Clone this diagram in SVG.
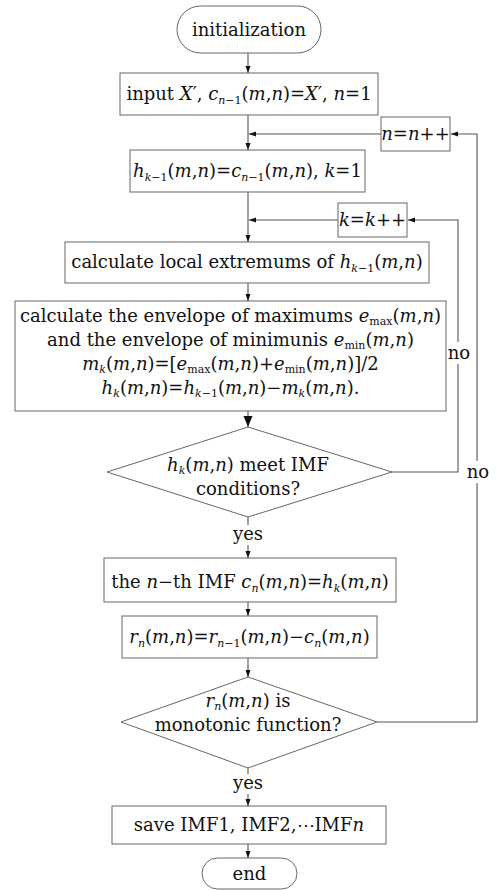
<svg xmlns="http://www.w3.org/2000/svg" width="498" height="890" viewBox="0 0 498 890">
<style>
.box{fill:#fff;stroke:#666;stroke-width:1}
.ln{fill:none;stroke:#555;stroke-width:1.1}
text{font-family:"DejaVu Serif","Liberation Serif",serif;font-size:18px;fill:#111;text-anchor:middle}
.i{font-style:italic}
.s{font-size:11px}
</style>
<defs>
<marker id="ah" markerWidth="8" markerHeight="8" refX="7" refY="4" orient="auto" markerUnits="userSpaceOnUse">
<path d="M0,1.5 L7,4 L0,6.5 Z" fill="#111"/>
</marker>
<marker id="ahb" markerWidth="12" markerHeight="12" refX="11" refY="6" orient="auto" markerUnits="userSpaceOnUse">
<path d="M0,1.5 L11,6 L0,10.5 Z" fill="#111"/>
</marker>
</defs>
<rect width="498" height="890" fill="#fff"/>
<g id="connectors">
<path class="ln" d="M248,53 V73" marker-end="url(#ah)"/>
<path class="ln" d="M248,115 V150" marker-end="url(#ah)"/>
<path class="ln" d="M381,134 H249" marker-end="url(#ah)"/>
<path class="ln" d="M377,722 H477 V134 H451" marker-end="url(#ah)"/>
<path class="ln" d="M248,192 V242" marker-end="url(#ah)"/>
<path class="ln" d="M338,220 H249" marker-end="url(#ah)"/>
<path class="ln" d="M392,472 H458 V220 H408" marker-end="url(#ah)"/>
<path class="ln" d="M248,283 V301" marker-end="url(#ah)"/>
<path class="ln" d="M248,411 V427" marker-end="url(#ahb)"/>
<path class="ln" d="M248,517 V558" marker-end="url(#ah)"/>
<path class="ln" d="M248,602 V616" marker-end="url(#ah)"/>
<path class="ln" d="M248,658 V677" marker-end="url(#ah)"/>
<path class="ln" d="M248,768 V806" marker-end="url(#ah)"/>
<path class="ln" d="M248,844 V858" marker-end="url(#ah)"/>
</g>
<g id="labels">
<rect x="447" y="342" width="24" height="22" fill="#fff"/>
<text x="459" y="359">no</text>
<rect x="466" y="461" width="24" height="22" fill="#fff"/>
<text x="478" y="478">no</text>
<rect x="229" y="525" width="38" height="20" fill="#fff"/>
<text x="248" y="540">yes</text>
<rect x="229" y="774" width="38" height="20" fill="#fff"/>
<text x="248" y="789">yes</text>
</g>
<g id="init">
<rect class="box" x="177" y="6" width="144" height="47" rx="23.5"/>
<text x="249" y="36">initialization</text>
</g>
<g id="input">
<rect class="box" x="120" y="73" width="258" height="42"/>
<text x="249" y="100">input <tspan class="i">X</tspan>′, <tspan class="i">c</tspan><tspan class="s i" dy="4">n</tspan><tspan class="s">−1</tspan><tspan dy="-4">(</tspan><tspan class="i">m</tspan>,<tspan class="i">n</tspan>)=<tspan class="i">X</tspan>′, <tspan class="i">n</tspan>=1</text>
</g>
<g id="ninc">
<rect class="box" x="381" y="117" width="69" height="34"/>
<text x="415.5" y="140"><tspan class="i">n</tspan>=<tspan class="i">n</tspan>++</text>
</g>
<g id="hinit">
<rect class="box" x="130" y="150" width="235" height="42"/>
<text x="247.5" y="177"><tspan class="i">h</tspan><tspan class="s i" dy="4">k</tspan><tspan class="s">−1</tspan><tspan dy="-4">(</tspan><tspan class="i">m</tspan>,<tspan class="i">n</tspan>)=<tspan class="i">c</tspan><tspan class="s i" dy="4">n</tspan><tspan class="s">−1</tspan><tspan dy="-4">(</tspan><tspan class="i">m</tspan>,<tspan class="i">n</tspan>), <tspan class="i">k</tspan>=1</text>
</g>
<g id="kinc">
<rect class="box" x="338" y="203" width="69" height="34"/>
<text x="372.5" y="226"><tspan class="i">k</tspan>=<tspan class="i">k</tspan>++</text>
</g>
<g id="extrema">
<rect class="box" x="65" y="242" width="364" height="41"/>
<text x="247" y="268">calculate local extremums of <tspan class="i">h</tspan><tspan class="s i" dy="4">k</tspan><tspan class="s">−1</tspan><tspan dy="-4">(</tspan><tspan class="i">m</tspan>,<tspan class="i">n</tspan>)</text>
</g>
<g id="envelope">
<rect class="box" x="15" y="301" width="431" height="110"/>
<text x="230.5" y="322">calculate the envelope of maximums <tspan class="i">e</tspan><tspan class="s" dy="3">max</tspan><tspan dy="-3">(</tspan><tspan class="i">m</tspan>,<tspan class="i">n</tspan>)</text>
<text x="230.5" y="346">and the envelope of minimunis <tspan class="i">e</tspan><tspan class="s" dy="3">min</tspan><tspan dy="-3">(</tspan><tspan class="i">m</tspan>,<tspan class="i">n</tspan>)</text>
<text x="230.5" y="370"><tspan class="i">m</tspan><tspan class="s i" dy="3">k</tspan><tspan dy="-3">(</tspan><tspan class="i">m</tspan>,<tspan class="i">n</tspan>)=[<tspan class="i">e</tspan><tspan class="s" dy="3">max</tspan><tspan dy="-3">(</tspan><tspan class="i">m</tspan>,<tspan class="i">n</tspan>)+<tspan class="i">e</tspan><tspan class="s" dy="3">min</tspan><tspan dy="-3">(</tspan><tspan class="i">m</tspan>,<tspan class="i">n</tspan>)]/2</text>
<text x="230.5" y="394"><tspan class="i">h</tspan><tspan class="s i" dy="3">k</tspan><tspan dy="-3">(</tspan><tspan class="i">m</tspan>,<tspan class="i">n</tspan>)=<tspan class="i">h</tspan><tspan class="s i" dy="3">k</tspan><tspan class="s">−1</tspan><tspan dy="-3">(</tspan><tspan class="i">m</tspan>,<tspan class="i">n</tspan>)−<tspan class="i">m</tspan><tspan class="s i" dy="3">k</tspan><tspan dy="-3">(</tspan><tspan class="i">m</tspan>,<tspan class="i">n</tspan>).</text>
</g>
<g id="imfcheck">
<path class="box" d="M248,427 L392,472 L248,517 L107,472 Z"/>
<text x="248" y="471"><tspan class="i">h</tspan><tspan class="s i" dy="3">k</tspan><tspan dy="-3">(</tspan><tspan class="i">m</tspan>,<tspan class="i">n</tspan>) meet IMF</text>
<text x="248" y="495">conditions?</text>
</g>
<g id="nthimf">
<rect class="box" x="104" y="558" width="292" height="44"/>
<text x="250" y="588">the <tspan class="i">n</tspan>−th IMF <tspan class="i">c</tspan><tspan class="s i" dy="4">n</tspan><tspan dy="-4">(</tspan><tspan class="i">m</tspan>,<tspan class="i">n</tspan>)=<tspan class="i">h</tspan><tspan class="s i" dy="4">k</tspan><tspan dy="-4">(</tspan><tspan class="i">m</tspan>,<tspan class="i">n</tspan>)</text>
</g>
<g id="residue">
<rect class="box" x="122" y="616" width="255" height="42"/>
<text x="249.5" y="643"><tspan class="i">r</tspan><tspan class="s i" dy="4">n</tspan><tspan dy="-4">(</tspan><tspan class="i">m</tspan>,<tspan class="i">n</tspan>)=<tspan class="i">r</tspan><tspan class="s i" dy="4">n</tspan><tspan class="s">−1</tspan><tspan dy="-4">(</tspan><tspan class="i">m</tspan>,<tspan class="i">n</tspan>)−<tspan class="i">c</tspan><tspan class="s i" dy="4">n</tspan><tspan dy="-4">(</tspan><tspan class="i">m</tspan>,<tspan class="i">n</tspan>)</text>
</g>
<g id="monotonic">
<path class="box" d="M248,677 L377,722 L248,768 L121,722 Z"/>
<text x="248" y="707"><tspan class="i">r</tspan><tspan class="s i" dy="3">n</tspan><tspan dy="-3">(</tspan><tspan class="i">m</tspan>,<tspan class="i">n</tspan>) is</text>
<text x="248" y="731">monotonic function?</text>
</g>
<g id="save">
<rect class="box" x="112" y="806" width="274" height="38"/>
<text x="249" y="831">save IMF1, IMF2,⋯IMF<tspan class="i">n</tspan></text>
</g>
<g id="end">
<rect class="box" x="202" y="858" width="95" height="31" rx="15.5"/>
<text x="249.5" y="880">end</text>
</g>
</svg>
